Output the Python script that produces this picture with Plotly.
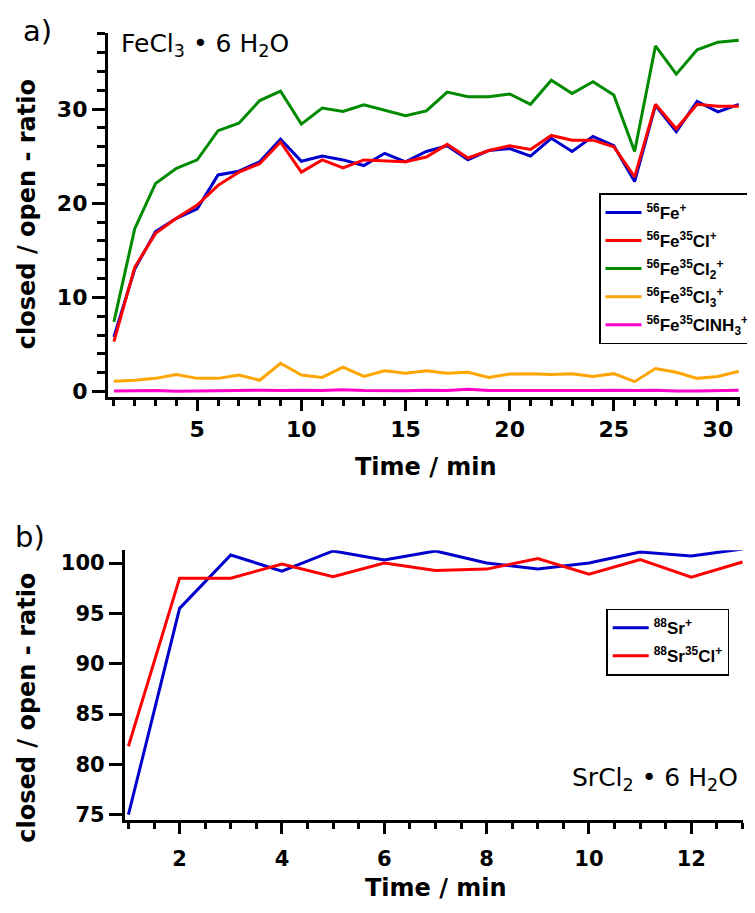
import plotly.graph_objects as go

# The page body keeps its default 8px margin, so every reference position is shifted by 8px.
OFF = 8
FW, FH = 755 - OFF, 913 - OFF

# ---------------- data ----------------
time_a = list(range(1, 32))
fe = [5.8, 13.0, 17.0, 18.4, 19.4, 23.0, 23.4, 24.4, 26.8, 24.45, 25.0, 24.6, 24.0, 25.3, 24.4, 25.5,
      26.1, 24.6, 25.6, 25.8, 25.0, 26.9, 25.5, 27.1, 26.1, 22.3, 30.4, 27.6, 30.8, 29.7, 30.5]
fecl = [5.3, 13.2, 16.8, 18.4, 19.8, 21.9, 23.3, 24.2, 26.5, 23.3, 24.6, 23.75, 24.6, 24.5, 24.4, 24.9,
        26.25, 24.8, 25.6, 26.1, 25.7, 27.2, 26.7, 26.7, 26.0, 22.8, 30.5, 27.9, 30.5, 30.3, 30.3]
fecl2 = [7.4, 17.3, 22.1, 23.7, 24.6, 27.7, 28.5, 30.9, 31.9, 28.4, 30.1, 29.75, 30.45, 29.9, 29.3, 29.8,
         31.8, 31.3, 31.3, 31.6, 30.5, 33.05, 31.65, 32.9, 31.5, 25.5, 36.7, 33.7, 36.3, 37.1, 37.3]
fecl3 = [1.1, 1.2, 1.4, 1.8, 1.4, 1.4, 1.75, 1.2, 3.0, 1.75, 1.5, 2.6, 1.6, 2.2, 1.95, 2.2,
         1.95, 2.05, 1.5, 1.85, 1.9, 1.8, 1.9, 1.6, 1.9, 1.05, 2.45, 2.05, 1.4, 1.6, 2.15]
feclnh3 = [0.07, 0.1, 0.12, 0.02, 0.05, 0.05, 0.05, 0.15, 0.1, 0.15, 0.1, 0.2, 0.12, 0.1, 0.08, 0.15,
           0.1, 0.25, 0.1, 0.1, 0.1, 0.05, 0.08, 0.1, 0.15, 0.1, 0.15, 0.05, 0.05, 0.12, 0.15]

time_b = list(range(1, 14))
sr = [75.0, 95.5, 100.8, 99.2, 101.2, 100.3, 101.2, 100.0, 99.4, 100.0, 101.1, 100.7, 101.4]
srcl = [81.8, 98.5, 98.5, 99.9, 98.65, 100.0, 99.25, 99.4, 100.45, 98.9, 100.35, 98.6, 100.1]

names_a = ["<sup>56</sup>Fe<sup>+</sup>",
           "<sup>56</sup>Fe<sup>35</sup>Cl<sup>+</sup>",
           "<sup>56</sup>Fe<sup>35</sup>Cl<sub>2</sub><sup>+</sup>",
           "<sup>56</sup>Fe<sup>35</sup>Cl<sub>3</sub><sup>+</sup>",
           "<sup>56</sup>Fe<sup>35</sup>ClNH<sub>3</sub><sup>+</sup>"]
names_b = ["<sup>88</sup>Sr<sup>+</sup>", "<sup>88</sup>Sr<sup>35</sup>Cl<sup>+</sup>"]

colors_a = ["#0000cc", "#ff0000", "#008a00", "#ffa500", "#ff00cc"]
colors_b = ["#0000cc", "#ff0000"]

FONT = "DejaVu Sans"
LFONT = "Liberation Sans"

fig = go.Figure()
for i, (ys, nm, c) in enumerate(zip([fe, fecl, fecl2, fecl3, feclnh3], names_a, colors_a)):
    fig.add_trace(go.Scatter(x=time_a, y=ys, mode="lines", name=nm, legendgroup=f"a{i}",
                             line=dict(color=c, width=3), xaxis="x", yaxis="y", legend="legend"))
for i, (ys, nm, c) in enumerate(zip([sr, srcl], names_b, colors_b)):
    fig.add_trace(go.Scatter(x=time_b, y=ys, mode="lines", name=nm, legendgroup=f"b{i}",
                             line=dict(color=c, width=3), xaxis="x2", yaxis="y2", legend="legend2"))


def px_x(p):
    return (p - OFF) / FW


def px_y(p):
    return 1 - (p - OFF) / FH


def axis(domain, rng, dtick, minor_dtick, size, anchor, ticklen, minorlen, standoff=0):
    d = dict(domain=domain, range=rng, anchor=anchor, showline=True, linewidth=3, linecolor="black",
             ticks="outside", ticklen=ticklen, tickwidth=3, tickcolor="black", dtick=dtick, tick0=0,
             showgrid=False, zeroline=False, ticklabelstandoff=standoff,
             tickfont=dict(family=FONT, size=size, color="black", weight="bold"))
    if minor_dtick:
        d["minor"] = dict(dtick=minor_dtick, tick0=0, ticks="outside", ticklen=minorlen,
                          tickwidth=3, tickcolor="black", showgrid=False)
    return d


leg_font = dict(family=LFONT, size=17, color="black", weight="bold")

fig.update_layout(
    width=FW, height=FH,
    margin=dict(l=0, r=0, t=0, b=0),
    paper_bgcolor="white", plot_bgcolor="white",
    font=dict(family=FONT, color="black"),
    xaxis=axis([px_x(108), px_x(741)], [0.71, 31.06], 5, 1, 22, "y", 11, 6, 0),
    yaxis=axis([px_y(400), px_y(33)], [-0.53, 38.1], 10, 2, 22, "x", 13, 8),
    xaxis2=axis([px_x(125), px_x(744)], [0.93, 13.01], 2, 0.5, 21, "y2", 11, 6, 7),
    yaxis2=axis([px_y(827), px_y(555)], [74.5, 101.28], 5, None, 21, "x2", 13, 8),
    legend=dict(x=px_x(600), y=px_y(195), xanchor="left", yanchor="top",
                bordercolor="black", borderwidth=1.5, bgcolor="white",
                font=leg_font, tracegroupgap=3, itemwidth=36),
    legend2=dict(x=px_x(607), y=px_y(614), xanchor="left", yanchor="top",
                 bordercolor="black", borderwidth=1.5, bgcolor="white",
                 font=leg_font, tracegroupgap=3, itemwidth=36),
    showlegend=True,
)

ann = [
    dict(text="a)", x=px_x(38), y=px_y(31), size=29, weight="normal", angle=0, xa="center"),
    dict(text="b)", x=px_x(30), y=px_y(542), size=29, weight="normal", angle=0, xa="center"),
    dict(text="FeCl<sub>3</sub> • 6 H<sub>2</sub>O", x=px_x(119), y=px_y(45), size=25,
         weight="normal", angle=0, xa="left"),
    dict(text="SrCl<sub>2</sub> • 6 H<sub>2</sub>O", x=px_x(741), y=px_y(786), size=25,
         weight="normal", angle=0, xa="right"),
    dict(text="closed / open - ratio", x=px_x(27), y=px_y(216), size=24, weight="bold", angle=-90,
         xa="center"),
    dict(text="closed / open - ratio", x=px_x(27), y=px_y(714), size=24, weight="bold", angle=-90,
         xa="center"),
    dict(text="Time / min", x=px_x(427), y=px_y(471), size=24, weight="bold", angle=0, xa="center"),
    dict(text="Time / min", x=px_x(437), y=px_y(896), size=24, weight="bold", angle=0, xa="center"),
]
for a in ann:
    fig.add_annotation(text=a["text"], x=a["x"], y=a["y"], xref="paper", yref="paper",
                       xanchor=a["xa"], yanchor="middle", showarrow=False, textangle=a["angle"],
                       font=dict(family=FONT, size=a["size"], color="black", weight=a["weight"]))

fig.write_html("out.html")
